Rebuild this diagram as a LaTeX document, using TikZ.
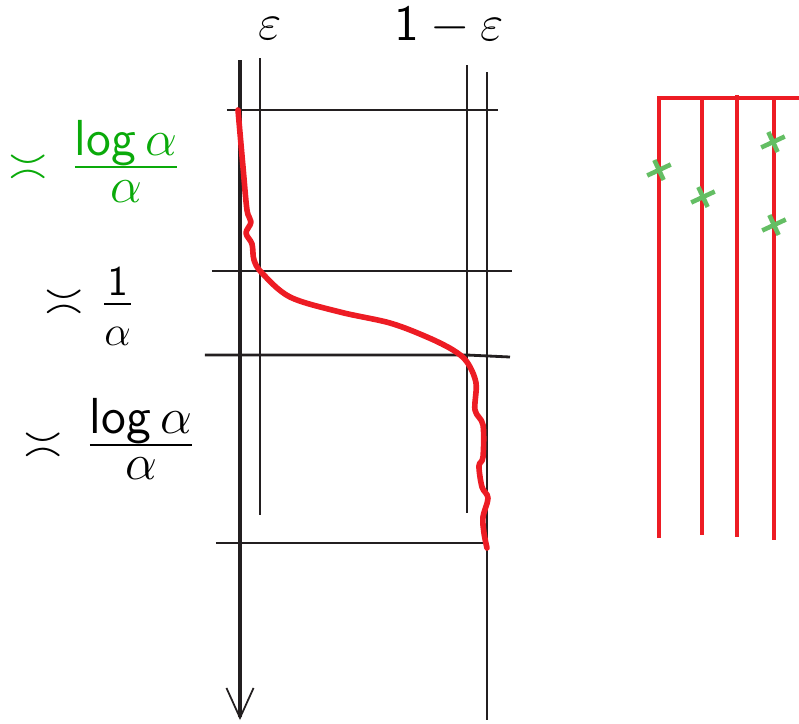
\documentclass[tikz,border=0pt]{standalone}
\usepackage{tikz}
\usetikzlibrary{arrows.meta}
\usepackage{xcolor}
\usepackage{amsmath}
\definecolor{DK}{RGB}{35,31,32}
\definecolor{CR}{RGB}{237,28,36}
\definecolor{CG}{RGB}{10,170,10}
\definecolor{LG}{RGB}{100,190,100}
% tight fraction: #3 lowers numerator, #4 lifts denominator
\newcommand{\fr}[4]{\genfrac{}{}{0.8pt}{0}%
  {\smash{\raisebox{-#3}{$#1$}}}{\smash{\raisebox{#4}{$#2$}}}}

\begin{document}
\begin{tikzpicture}[x=0.01cm, y=-0.01cm,
  ax/.style={draw=DK, line width=1.15pt},
  gl/.style={draw=DK, line width=0.8pt},
  crv/.style={draw=CR, line width=1.6pt, line cap=round, line join=round},
  rl/.style={draw=CR, line width=1.1pt},
  crs/.style={draw=LG, line width=1.3pt},
  lab/.style={font=\Large, inner sep=0pt}
]
\useasboundingbox (0,0) rectangle (799,723);

% time axis
\coordinate (top) at (240,60);
\coordinate (bot) at (240,720);
\draw[ax, -{Straight Barb[length=8.5pt, width=7.7pt, line width=0.5pt]}] (top) -- (bot);

% eps and 1-eps columns
\draw[gl] (260,58) -- (260,515);
\draw[gl] (467,65) -- (467,513);
\draw[gl, line width=0.6pt] (487,72) -- (487,720);

% levels
\draw[gl] (227,110) -- (498,110);
\draw[gl] (212,271) -- (512,271);
\draw[gl] (205,355) -- (467,355) -- (510,357);
\draw[gl] (216,543) -- (487,543);

\node[lab, anchor=base] (e0) at (270,39) {$\varepsilon$};
\node[lab, anchor=base] (e1) at (449,40) {$\mathsf{1}-\varepsilon$};

\node[lab, anchor=mid, text=CG] (l1) at (95,172)
  {$\asymp\,\fr{\mathsf{log}\,\alpha}{\alpha}{2.8pt}{3.5pt}$};
\node[lab, anchor=mid] (l2) at (90,307)
  {$\asymp$\hspace{4.5pt}{\large$\fr{\mathsf{1}}{\alpha}{2.8pt}{-0.6pt}$}};
\node[lab, anchor=mid] (l3) at (110,450)
  {$\asymp\,\fr{\mathsf{log}\,\alpha}{\alpha}{2.8pt}{3.7pt}$};

% trajectory
\draw[crv] plot[smooth, tension=0.55] coordinates {
  (238,110) (243,167) (247,210) (251,222) (246,233) (252,244) (254,260)
  (262,273) (290,297) (340,312) (390,323) (427,337) (453,350) (467,362)
  (476,383) (475,410) (483,425) (483,457) (479,466) (482,487) (488,498)
  (483,517) (484,533) (487,548)};

% comb on the right
\draw[rl] (659,538) -- (659,98) -- (799,98);
\draw[rl] (702,98) -- (702,535);
\draw[rl] (737,95) -- (737,537);
\draw[rl] (774,98) -- (774,540);

\foreach \cx/\cy in {659/170, 703/197, 773/142, 774/225}
  \draw[crs, rotate around={25:(\cx,\cy)}]
    (\cx-13,\cy) -- (\cx+13,\cy) (\cx,\cy-11) -- (\cx,\cy+11);
\end{tikzpicture}
\end{document}
